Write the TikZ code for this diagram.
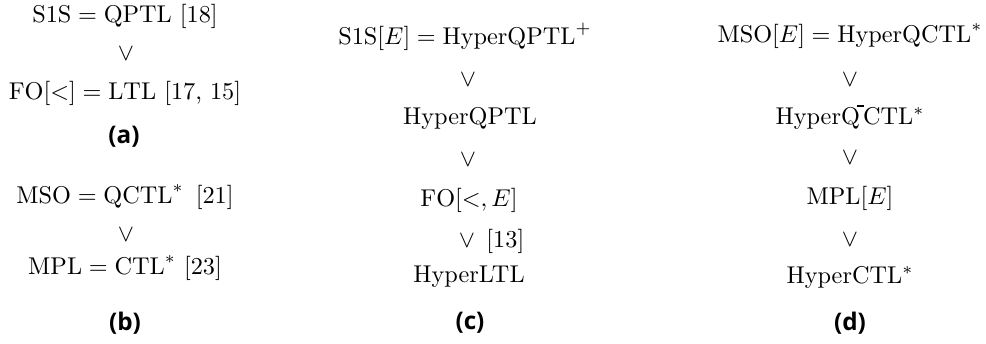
\documentclass[tikz,border=0pt]{standalone}
\usepackage{fontspec}
\newfontfamily\capfont{Open Sans}
\newcommand{\Qbar}{Q\kern-0.12em\raisebox{0.72em}{\rule{0.3em}{0.09em}}\kern-0.05em}
\begin{document}
\begin{tikzpicture}[x=0.412pt,y=-0.412pt,
  f/.style={inner sep=0pt},
  captxt/.style={inner sep=0pt,font=\capfont\bfseries},
  rel/.style={inner sep=0pt}]
\useasboundingbox (0,0) rectangle (986,344);
% (a)
\node[f] (a1) at (125,16) {$\mathrm{S1S}=\mathrm{QPTL}$~[18]};
\node[rel] (a2) at (126,54) {$\vee$};
\node[f] (a3) at (125,93) {$\mathrm{FO}[<]=\mathrm{LTL}$~[17, 15]};
\node[captxt] (ca) at (124,137) {(a)};
% (b)
\node[f] (b1) at (125,197) {$\mathrm{MSO}=\mathrm{QCTL}^*$~\,[21]};
\node[rel] (b2) at (126,235) {$\vee$};
\node[f] (b3) at (125,268) {$\mathrm{MPL}=\mathrm{CTL}^*$~[23]};
\node[captxt] (cb) at (125,323) {(b)};
% (c)
\node[f] (c1) at (465,37) {$\mathrm{S1S}[E]=\mathrm{HyperQPTL}^+$};
\node[rel] (c2) at (468,80) {$\vee$};
\node[f] (c3) at (470,118) {HyperQPTL};
\node[rel] (c4) at (468,160) {$\vee$};
\node[f] (c5) at (469,200) {$\mathrm{FO}[<,E]$};
\node[rel] (c6) at (467,241) {$\vee$};
\node[f,anchor=west] (c6r) at (486,241) {[13]};
\node[f] (c7) at (469,277) {HyperLTL};
\node[captxt] (cc) at (470,323) {(c)};
% (d)
\node[f] (d1) at (850,36) {$\mathrm{MSO}[E]=\mathrm{HyperQCTL}^*$};
\node[rel] (d2) at (850,80) {$\vee$};
\node[f] (d3) at (850,117) {Hyper\Qbar CTL$^*$};
\node[rel] (d4) at (850,158) {$\vee$};
\node[f] (d5) at (850,198) {$\mathrm{MPL}[E]$};
\node[rel] (d6) at (850,240) {$\vee$};
\node[f] (d7) at (850,277) {HyperCTL$^*$};
\node[captxt] (cd) at (850,323) {(d)};
\end{tikzpicture}
\end{document}
